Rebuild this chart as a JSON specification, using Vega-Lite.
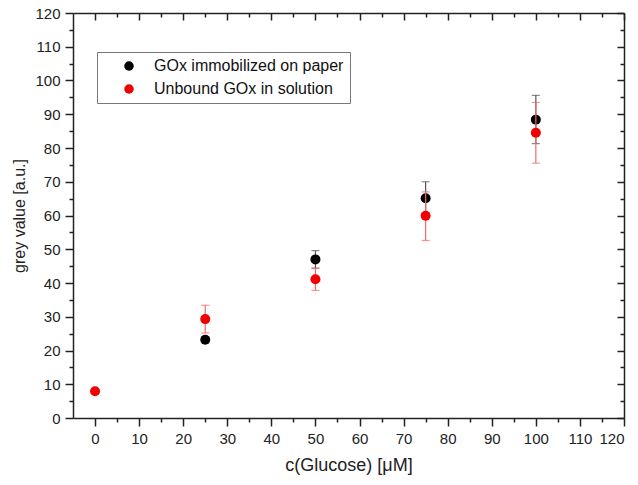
{
  "$schema": "https://vega.github.io/schema/vega-lite/v6.json",
  "width": 551,
  "height": 405,
  "autosize": {"type": "none"},
  "padding": {"left": 73, "top": 13, "right": 14, "bottom": 67},
  "background": "white",
  "datasets": {
    "pts": [
      {"series": "GOx immobilized on paper", "c": 25, "v": 23.2, "lo": 22.3, "hi": 24.1},
      {"series": "GOx immobilized on paper", "c": 50, "v": 47.0, "lo": 44.4, "hi": 49.6},
      {"series": "GOx immobilized on paper", "c": 75, "v": 65.1, "lo": 60.2, "hi": 70.0},
      {"series": "GOx immobilized on paper", "c": 100, "v": 88.4, "lo": 81.3, "hi": 95.6},
      {"series": "Unbound GOx in solution", "c": 0, "v": 7.9, "lo": 7.6, "hi": 8.2},
      {"series": "Unbound GOx in solution", "c": 25, "v": 29.3, "lo": 25.2, "hi": 33.4},
      {"series": "Unbound GOx in solution", "c": 50, "v": 41.1, "lo": 37.8, "hi": 44.3},
      {"series": "Unbound GOx in solution", "c": 75, "v": 59.9, "lo": 52.6, "hi": 67.0},
      {"series": "Unbound GOx in solution", "c": 100, "v": 84.5, "lo": 75.5, "hi": 93.5}
    ]
  },
  "data": {"name": "pts"},
  "layer": [
    {
      "transform": [{"filter": "datum.series == 'GOx immobilized on paper'"}],
      "mark": {"type": "rule", "color": "#555555", "strokeWidth": 1.2},
      "encoding": {
        "x": {"field": "c", "type": "quantitative", "scale": {"domain": [-5, 120], "nice": false, "zero": false},
          "axis": {"orient": "bottom", "values": [0,10,20,30,40,50,60,70,80,90,100,110,120], "title": "c(Glucose) [\u03bcM]", "tickSize": 8, "labelPadding": 5, "titlePadding": 10, "titleFontSize": 18, "domain": true, "grid": false}},
        "y": {"field": "lo", "type": "quantitative", "scale": {"domain": [0, 120], "nice": false},
          "axis": {"orient": "left", "values": [0,10,20,30,40,50,60,70,80,90,100,110,120], "title": "grey value [a.u.]", "tickSize": 8, "labelPadding": 5, "titlePadding": 7, "titleFontSize": 16, "domain": true, "grid": false}},
        "y2": {"field": "hi"}
      }
    },
    {
      "transform": [{"filter": "datum.series == 'GOx immobilized on paper'"}, {"fold": ["lo", "hi"], "as": ["end", "val"]}],
      "mark": {"type": "tick", "orient": "horizontal", "color": "#555555", "size": 8, "thickness": 1.2},
      "encoding": {
        "x": {"field": "c", "type": "quantitative",
          "axis": {"orient": "bottom", "values": [5,15,25,35,45,55,65,75,85,95,105,115], "labels": false, "title": null, "tickSize": 4, "domain": false, "grid": false}},
        "y": {"field": "val", "type": "quantitative",
          "axis": {"orient": "left", "values": [5,15,25,35,45,55,65,75,85,95,105,115], "labels": false, "title": null, "tickSize": 4, "domain": false, "grid": false}}
      }
    },
    {
      "transform": [{"filter": "datum.series == 'GOx immobilized on paper'"}],
      "mark": {"type": "point", "filled": true, "shape": "circle", "size": 100, "opacity": 1},
      "encoding": {
        "x": {"field": "c", "type": "quantitative",
          "axis": {"orient": "top", "values": [0,10,20,30,40,50,60,70,80,90,100,110,120], "labels": false, "title": null, "tickSize": -7, "domain": true, "grid": false}},
        "y": {"field": "v", "type": "quantitative",
          "axis": {"orient": "right", "values": [0,10,20,30,40,50,60,70,80,90,100,110,120], "labels": false, "title": null, "tickSize": -7, "domain": true, "grid": false}},
        "color": {"field": "series", "type": "nominal",
          "scale": {"domain": ["GOx immobilized on paper", "Unbound GOx in solution"], "range": ["#000000", "#f00000"]},
          "legend": {"orient": "none", "legendX": 24, "legendY": 39, "title": null, "labelExpr": "datum.label + '    '"}}
      }
    },
    {
      "transform": [{"filter": "datum.series == 'Unbound GOx in solution'"}],
      "mark": {"type": "rule", "color": "#ee6a6a", "strokeWidth": 1.2},
      "encoding": {
        "x": {"field": "c", "type": "quantitative",
          "axis": {"orient": "top", "values": [5,15,25,35,45,55,65,75,85,95,105,115], "labels": false, "title": null, "tickSize": -4, "domain": false, "grid": false}},
        "y": {"field": "lo", "type": "quantitative",
          "axis": {"orient": "right", "values": [5,15,25,35,45,55,65,75,85,95,105,115], "labels": false, "title": null, "tickSize": -4, "domain": false, "grid": false}},
        "y2": {"field": "hi"}
      }
    },
    {
      "transform": [{"filter": "datum.series == 'Unbound GOx in solution'"}, {"fold": ["lo", "hi"], "as": ["end", "val"]}],
      "mark": {"type": "tick", "orient": "horizontal", "color": "#ee6a6a", "size": 8, "thickness": 1.2},
      "encoding": {
        "x": {"field": "c", "type": "quantitative", "axis": null},
        "y": {"field": "val", "type": "quantitative", "axis": null}
      }
    },
    {
      "transform": [{"filter": "datum.series == 'Unbound GOx in solution'"}],
      "mark": {"type": "point", "filled": true, "shape": "circle", "size": 100, "opacity": 1},
      "encoding": {
        "x": {"field": "c", "type": "quantitative", "axis": null},
        "y": {"field": "v", "type": "quantitative", "axis": null},
        "color": {"field": "series", "type": "nominal",
          "scale": {"domain": ["GOx immobilized on paper", "Unbound GOx in solution"], "range": ["#000000", "#f00000"]},
          "legend": {"orient": "none", "legendX": 24, "legendY": 39, "title": null, "labelExpr": "datum.label + '    '"}}
      }
    }
  ],
  "resolve": {"axis": {"x": "independent", "y": "independent"}},
  "config": {
    "view": {"stroke": null},
    "font": "Liberation Sans",
    "axis": {
      "labelFont": "Liberation Sans",
      "labelFontSize": 15,
      "labelColor": "#222222",
      "titleFont": "Liberation Sans",
      "titleFontWeight": "normal",
      "titleColor": "#222222",
      "domainColor": "#222222",
      "domainWidth": 1.5,
      "tickColor": "#222222",
      "tickWidth": 1.5
    },
    "legend": {
      "labelFont": "Liberation Sans",
      "labelFontSize": 16,
      "labelColor": "#111111",
      "labelLimit": 400,
      "symbolSize": 90,
      "symbolType": "circle",
      "symbolStrokeWidth": 0,
      "padding": 6,
      "symbolOffset": 18,
      "labelOffset": 17,
      "rowPadding": 7,
      "strokeColor": "#777777",
      "fillColor": "white"
    }
  }
}
